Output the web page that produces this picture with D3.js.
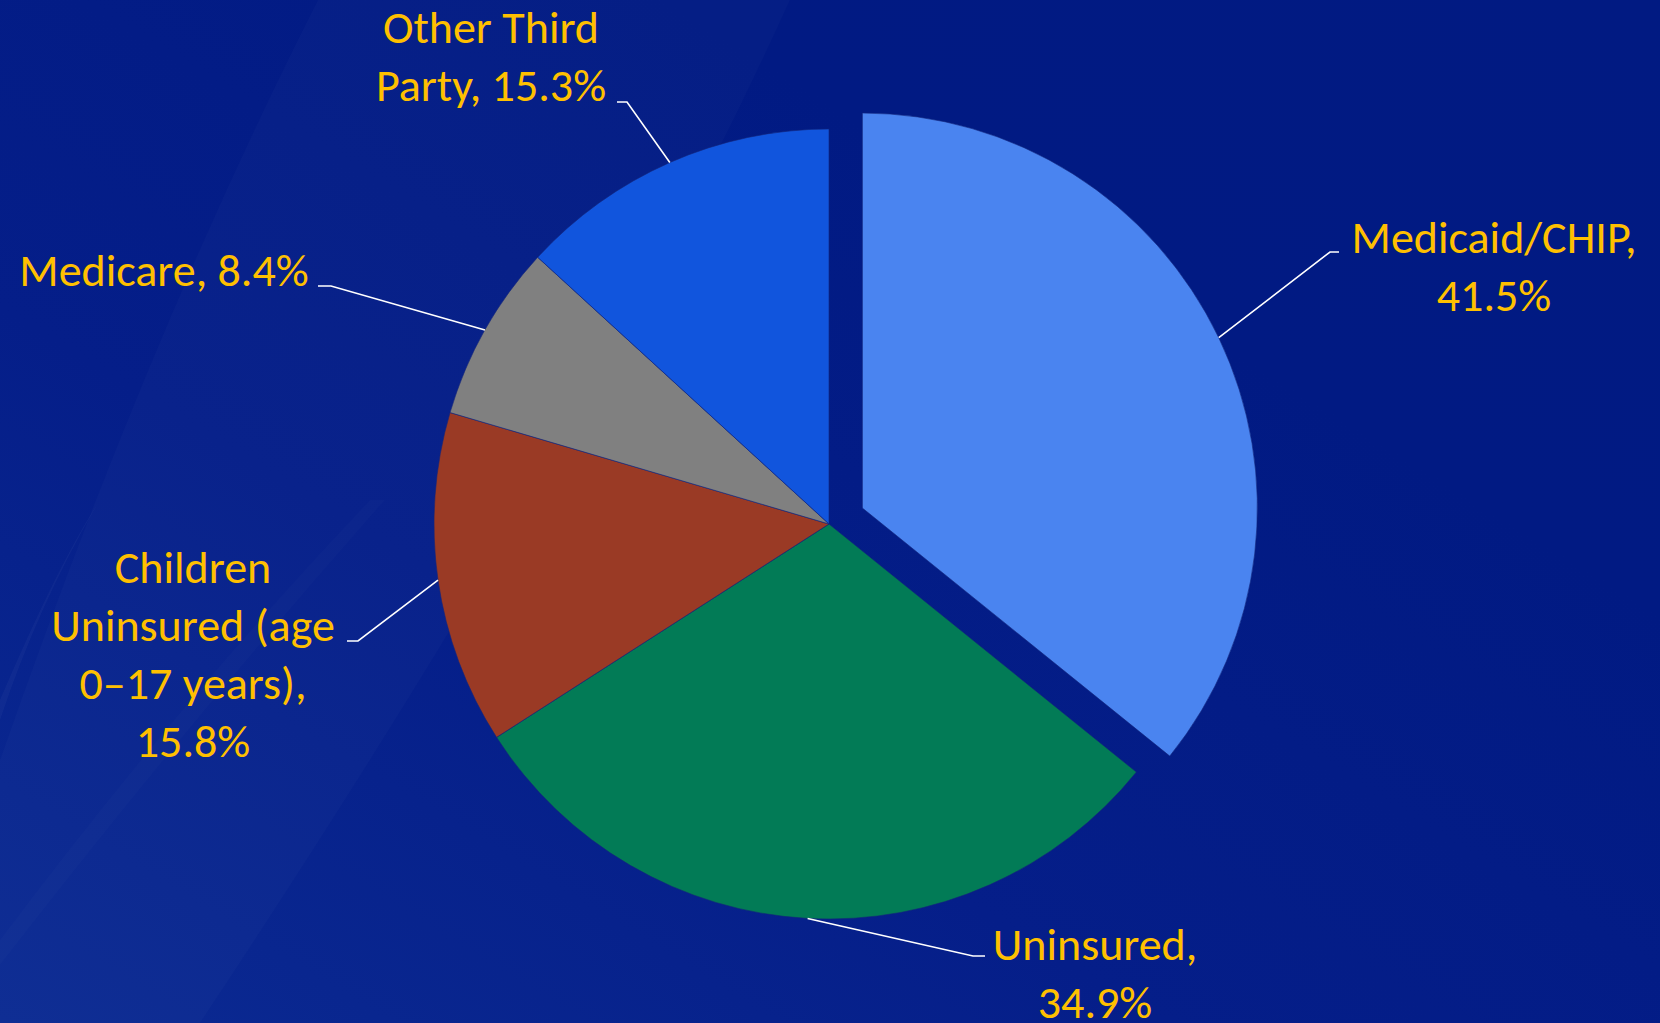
<!DOCTYPE html>
<html>
<head>
<meta charset="utf-8">
<script src="https://cdn.jsdelivr.net/npm/d3@7"></script>
<style>
  html, body { margin: 0; padding: 0; background: #011b84; }
  svg { display: block; }
  .label { font-family: Carlito, Calibri, Lato, sans-serif; font-size: 46px; fill: #ffc000; }
  .leader { fill: none; stroke: #fff; stroke-width: 1.6; }
</style>
</head>
<body>
<div id="chart"></div>
<script>
// Payer mix (values as printed; slices are drawn in proportion to them)
const categories = ['Medicaid/CHIP', 'Uninsured', 'Children Uninsured (age 0–17 years)', 'Medicare', 'Other Third Party'];
const values = [41.5, 34.9, 15.8, 8.4, 15.3];
const labelLines = [
  ['Medicaid/CHIP,', '41.5%'],
  ['Uninsured,', '34.9%'],
  ['Children', 'Uninsured (age', '0–17 years),', '15.8%'],
  ['Medicare, 8.4%'],
  ['Other Third', 'Party, 15.3%']
];
const colors = ['#4a84f0', '#027b56', '#9a3a25', '#808080', '#1155dd'];

const width = 1660,
      height = 1023;

const cx = 829, cy = 524,
      radius = 395,
      explode = 37,
      lineHeight = 58;

// label placement: centre x, first baseline, stub [x from, x to, y]
const labelLayout = [
  {x: 1494, y: 253, stub: [1339, 1330, 252]},
  {x: 1095, y: 960, stub: [985, 973, 956]},
  {x: 193, y: 583, stub: [347, 358, 641]},
  {x: 164, y: 286, stub: [318, 331, 286]},
  {x: 491, y: 43, stub: [617, 627, 102]}
];

const svg = d3.select('#chart').append('svg')
    .attr('width', width)
    .attr('height', height);

// Background
const defs = svg.append('defs');
const bg = defs.append('linearGradient')
    .attr('id', 'bg')
    .attr('x1', '0').attr('y1', '1')
    .attr('x2', '1').attr('y2', '0');
bg.append('stop').attr('offset', '0%').attr('stop-color', '#0b2a92');
bg.append('stop').attr('offset', '35%').attr('stop-color', '#051e89');
bg.append('stop').attr('offset', '70%').attr('stop-color', '#011a83');
bg.append('stop').attr('offset', '100%').attr('stop-color', '#011a82');

svg.append('rect')
    .attr('width', width)
    .attr('height', height)
    .attr('fill', 'url(#bg)');

// faint light streaks on the left
const streaks = svg.append('g').attr('class', 'streaks');
streaks.append('path')
    .attr('d', 'M318,0 L790,0 Q600,420 200,1023 L0,1023 L0,760 Q150,330 318,0Z')
    .attr('fill', '#ffffff')
    .attr('opacity', 0.018);
streaks.append('path')
    .attr('d', 'M0,700 Q60,560 100,500 Q40,600 0,720Z')
    .attr('fill', '#ffffff')
    .attr('opacity', 0.03);
streaks.append('path')
    .attr('d', 'M0,940 Q180,700 370,500 L385,500 Q190,720 0,965Z')
    .attr('fill', '#ffffff')
    .attr('opacity', 0.015);

const pie = d3.pie()
    .sort(null)
    .value(d => d);

const arcs = pie(values);

const arc = d3.arc()
    .innerRadius(0)
    .outerRadius(radius);

const g = svg.append('g')
    .attr('transform', `translate(${cx},${cy})`);

const offset = (d, i) => {
  const mid = (d.startAngle + d.endAngle) / 2;
  const k = i === 0 ? explode : 0;
  return [k * Math.sin(mid), -k * Math.cos(mid)];
};

g.selectAll('path.slice')
    .data(arcs)
    .enter().append('path')
      .attr('class', 'slice')
      .attr('d', arc)
      .attr('fill', (d, i) => colors[i])
      .attr('stroke', '#13257a')
      .attr('stroke-width', 0.6)
      .attr('transform', (d, i) => `translate(${offset(d, i)})`);

// Leader lines: from the slice edge at its mid angle to the label stub
const leaders = svg.append('g').attr('class', 'leaders');
arcs.forEach((d, i) => {
  const mid = (d.startAngle + d.endAngle) / 2;
  const o = offset(d, i);
  const ex = cx + o[0] + radius * Math.sin(mid),
        ey = cy + o[1] - radius * Math.cos(mid);
  const s = labelLayout[i].stub;
  leaders.append('path')
      .attr('class', 'leader')
      .attr('d', `M${s[0]},${s[2]}L${s[1]},${s[2]}L${ex},${ey}`);
});

// Labels
const labels = svg.append('g').attr('class', 'labels');
labelLines.forEach((lines, i) => {
  const t = labels.append('text')
      .attr('class', 'label')
      .attr('text-anchor', 'middle')
      .attr('x', labelLayout[i].x)
      .attr('y', labelLayout[i].y);
  lines.forEach((line, j) => {
    t.append('tspan')
        .attr('x', labelLayout[i].x)
        .attr('y', labelLayout[i].y + j * lineHeight)
        .text(line);
  });
});
</script>
</body>
</html>
